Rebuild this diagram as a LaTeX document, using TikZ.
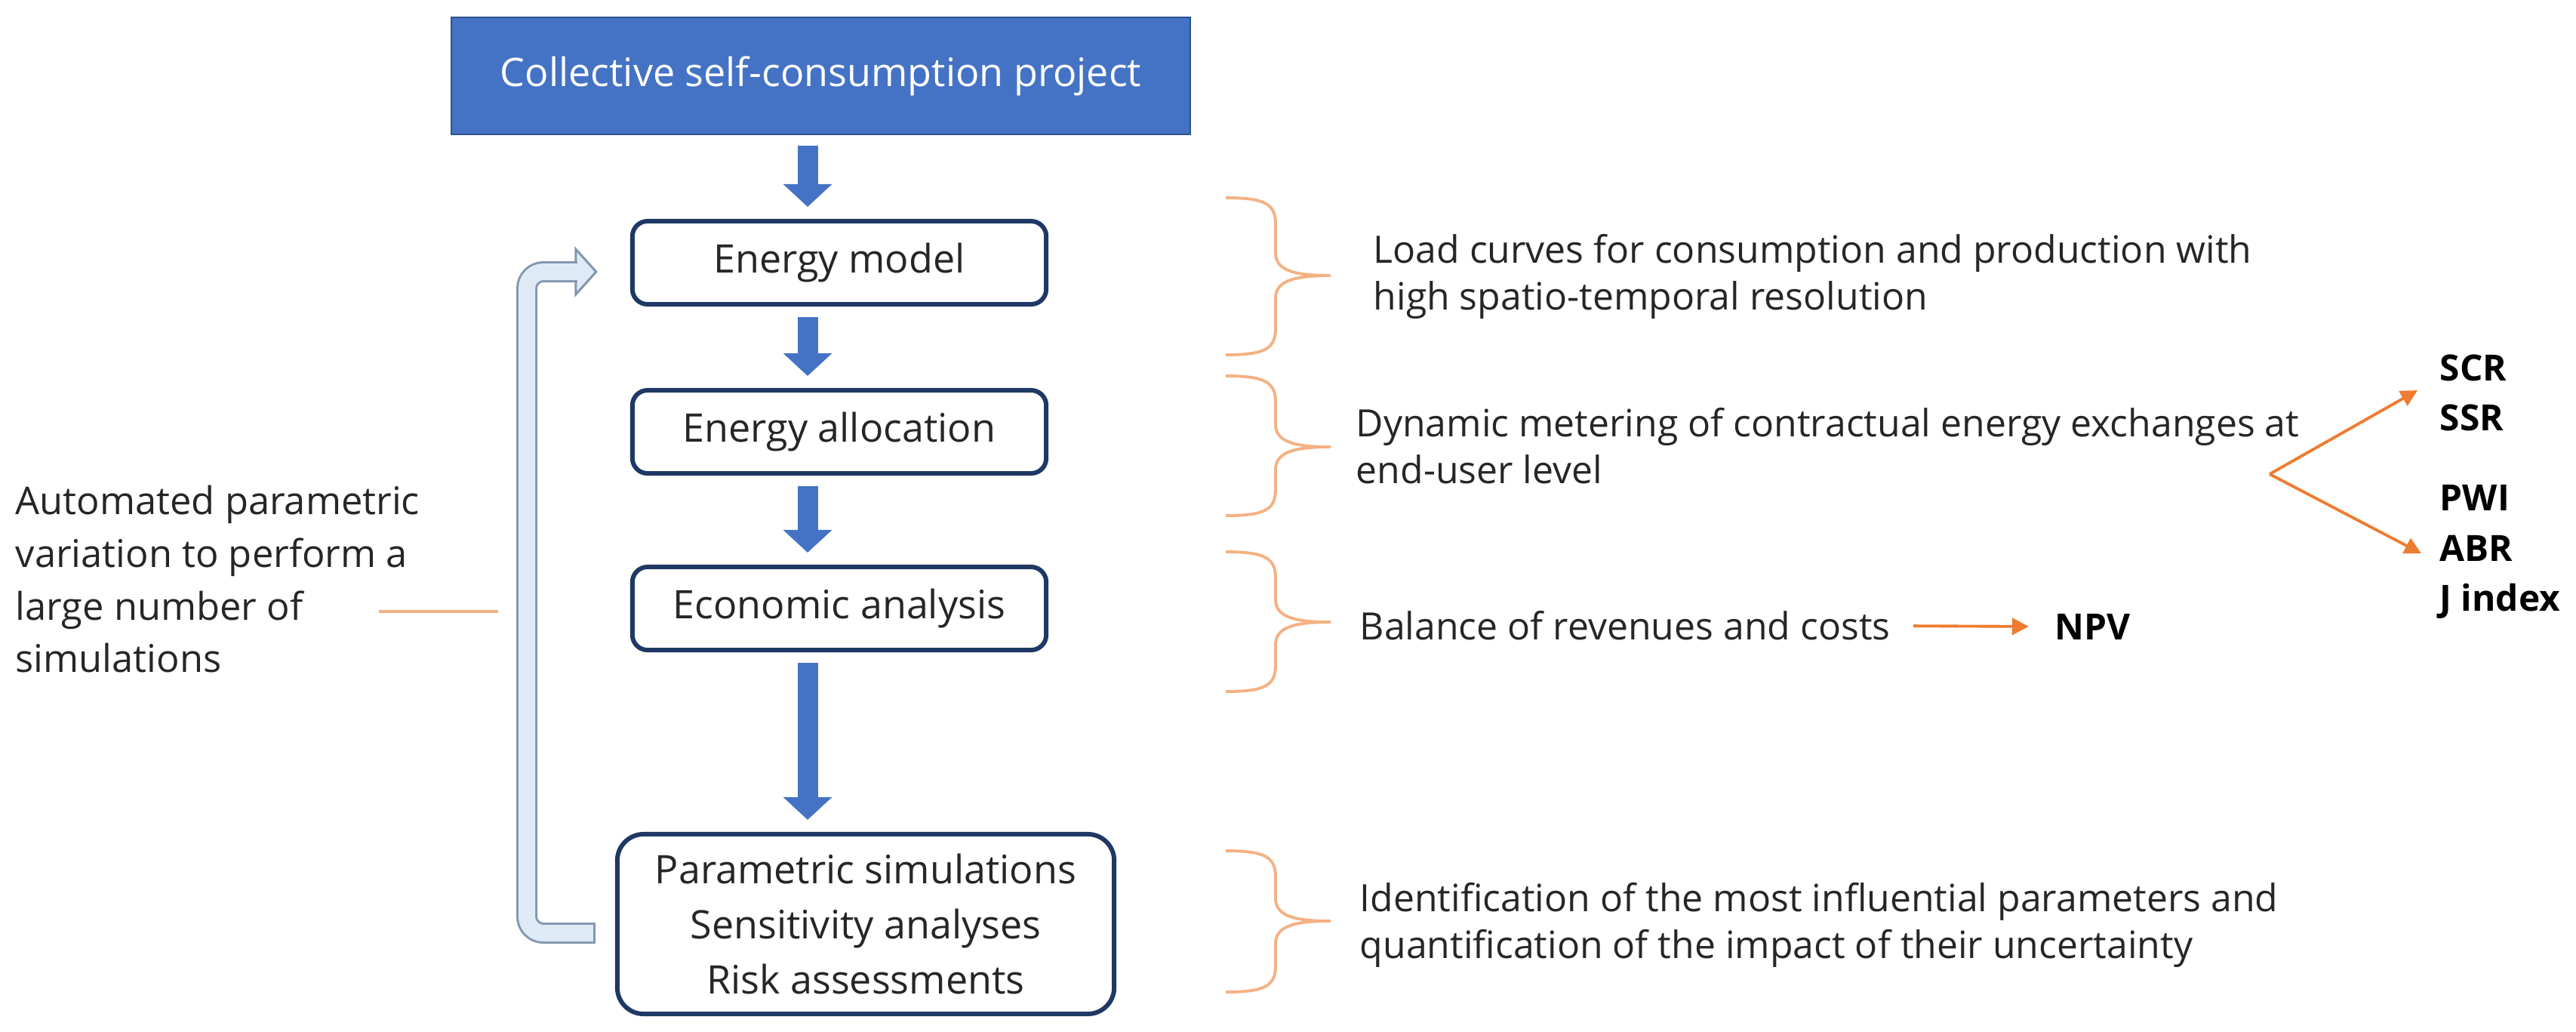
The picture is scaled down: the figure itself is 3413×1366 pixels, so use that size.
\documentclass[tikz,border=0pt]{standalone}
\usepackage{fontspec}
\setmainfont{Open Sans}
\usepackage{xcolor}
\usetikzlibrary{positioning, arrows.meta, calc}

\definecolor{ccBlue}{HTML}{4472C4}
\definecolor{ccBlueEdge}{HTML}{2F528F}
\definecolor{ccNavy}{HTML}{1F3864}
\definecolor{ccOrange}{HTML}{ED7D31}
\definecolor{ccPeach}{HTML}{F4B183}
\definecolor{ccLoopFill}{HTML}{DEEBF7}
\definecolor{ccLoopEdge}{HTML}{8497B0}
\definecolor{ccText}{HTML}{262626}

\newcommand{\stepfont}{\fontsize{14.8pt}{20.8pt}\selectfont}
\newcommand{\notefont}{\fontsize{14.2pt}{17.6pt}\selectfont}
\newcommand{\loopfont}{\fontsize{14.4pt}{19.9pt}\selectfont}
\newcommand{\kpifont}{\fontsize{13.6pt}{18.8pt}\selectfont\bfseries}

\tikzset{
  stepbox/.style={draw=ccNavy, line width=1.7pt, fill=white, rounded corners=2mm,
    minimum width=5.48cm, minimum height=1.1cm, inner sep=0pt,
    font=\stepfont, text=ccText},
  flowarrow/.style={ccBlue, line width=2.7mm, -{Triangle[length=3mm, width=6.3mm]},
    shorten <=1.4mm, shorten >=1.6mm},
  notetext/.style={anchor=west, align=left, inner sep=0pt, font=\notefont, text=ccText},
  kpitext/.style={anchor=west, align=left, inner sep=0pt, font=\kpifont, text=black},
  outarrow/.style={ccOrange, line width=1.1pt, -{Triangle[length=2.2mm, width=2.2mm]}},
  notebrace/.style={ccPeach, line width=1.1pt, line join=round},
}

\begin{document}
\begin{tikzpicture}[x=0.01cm, y=-0.01cm]
  \useasboundingbox (0,0) rectangle (3413,1366);

  % ── Project (top) ──
  \node[draw=ccBlueEdge, fill=ccBlue, line width=0.6pt, minimum width=9.79cm,
    minimum height=1.55cm, font=\stepfont, text=white] (project) at (1087.5,100.5)
    {Collective self-consumption project};

  % ── Workflow steps ──
  \node[stepbox] (energy) at (1112,348) {Energy model};
  \node[stepbox] (alloc)  at (1112,572) {Energy allocation};
  \node[stepbox] (econ)   at (1112,806) {Economic analysis};
  \node[stepbox, rounded corners=3.5mm, minimum width=6.58cm, minimum height=2.38cm,
    align=center] (sims) at (1147,1224)
    {Parametric simulations\\Sensitivity analyses\\Risk assessments};

  % blue arrows down the spine
  \coordinate (spine) at (1070,0);
  \foreach \a/\b in {project/energy, energy/alloc, alloc/econ, econ/sims}
    \draw[flowarrow] (\a.south -| spine) -- (\b.north -| spine);

  % ── Feedback loop ──
  \coordinate (loopin)  at ($(energy.west)+(-45,12)$);
  \coordinate (loopout) at ($(sims.west)+(-27,12)$);
  \coordinate (loopx)   at (698,0);
  \filldraw[fill=ccLoopFill, draw=ccLoopEdge, line width=0.3mm]
    ($(loopin)+(-27,-30)$) -- (loopin) -- ($(loopin)+(-27,30)$) -- cycle;
  \draw[ccLoopEdge, line width=0.3mm, double=ccLoopFill, double distance=2.2mm,
    rounded corners=2.2mm]
    (loopout) -- (loopout -| loopx) -- (loopin -| loopx) -- ($(loopin)+(-25,0)$);
  \draw[ccLoopEdge, line width=0.3mm] ($(loopout)+(0,-14)$) -- ($(loopout)+(0,14)$);

  \node[anchor=west, align=left, inner sep=0pt, font=\loopfont, text=ccText]
    (looptext) at (20,767)
    {Automated parametric\\variation to perform a\\large number of\\simulations};
  \coordinate (tickL) at (502,810);
  \coordinate (tickR) at (660,810);
  \draw[ccPeach, line width=1.1pt] (tickL) -- (tickR);

  % ── Braces ──
  \foreach \ya/\ym/\yb in {262/365/470, 498/592/683, 731/824/916, 1127/1220/1314}
    \draw[notebrace] (1624,\ya) .. controls (1676,\ya) and (1690,\ya+8) .. (1690,\ya+35)
      -- (1690,\ym-30) .. controls (1690,\ym-8) and (1712,\ym) .. (1762,\ym)
      .. controls (1712,\ym) and (1690,\ym+8) .. (1690,\ym+30)
      -- (1690,\yb-35) .. controls (1690,\yb-8) and (1676,\yb) .. (1624,\yb);

  % ── Outputs ──
  \node[notetext] (loadcurves) at (1819,366)
    {Load curves for consumption and production with\\high spatio-temporal resolution};
  \node[notetext] (metering) at (1796,591)
    {Dynamic metering of contractual energy exchanges at\\end-user level};
  \node[notetext] (balance) at (1801,829) {Balance of revenues and costs};
  \node[notetext] (influence) at (1801,1225)
    {Identification of the most influential parameters and\\quantification of the impact of their uncertainty};

  \node[kpitext] (npv)  at (2722,830) {NPV};
  \node[kpitext] (kpiA) at (3232,520) {SCR\\SSR};
  \node[kpitext] (kpiB) at (3232,731) {PWI\\ABR\\J index};

  \draw[outarrow, shorten <=3mm, shorten >=3.4mm] (balance.east) -- (npv.west);
  \coordinate (fork) at (3007,628);
  \draw[outarrow] (fork) -- ($(kpiA.west)+(-29,-3)$);
  \draw[outarrow] (fork) -- ($(kpiB.west)+(-24,2)$);
\end{tikzpicture}
\end{document}
